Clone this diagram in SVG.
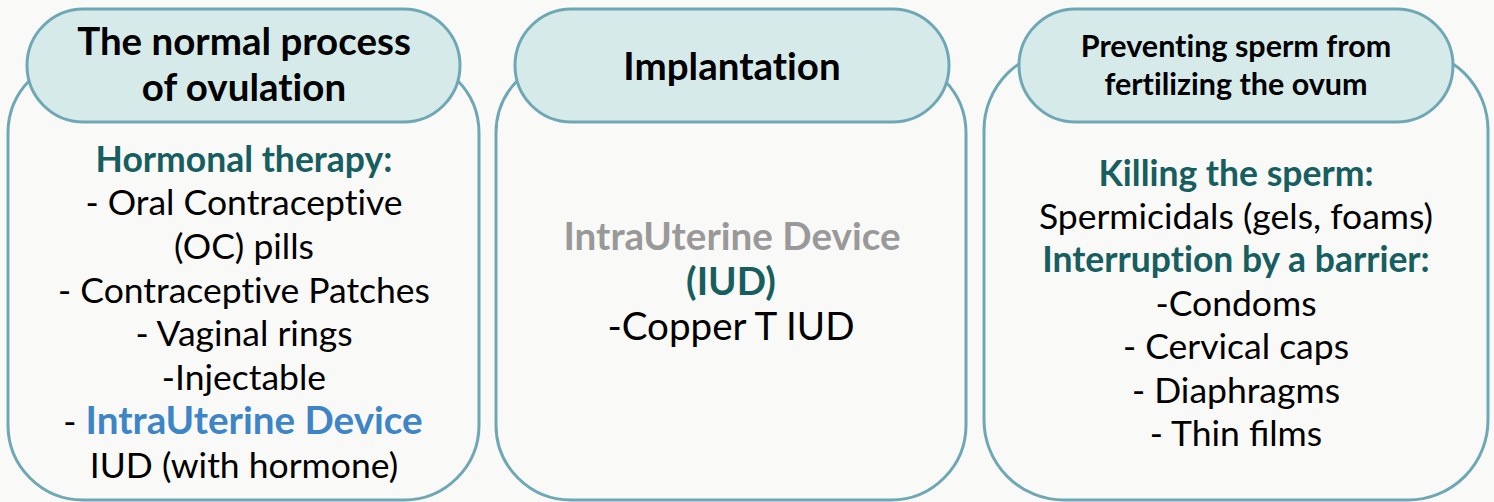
<svg xmlns="http://www.w3.org/2000/svg" width="1494" height="502" viewBox="0 0 1494 502">
  <style>
    .box { fill: #f9f9f7; stroke: #6fa8b5; stroke-width: 3; }
    .pill { fill: #d6eaea; stroke: #6fa8b5; stroke-width: 3; }
    text { font-family: Lato, "Open Sans", sans-serif; text-anchor: middle; fill: #000; font-variant-ligatures: none; }
    .lig { font-variant-ligatures: common-ligatures; }
    .title { font-weight: bold; font-size: 38.5px; }
    .title-sm { font-weight: bold; font-size: 30.5px; }
    .body { font-size: 35.5px; }
    .head { font-weight: bold; font-size: 35.5px; fill: #175e60; }
    .mid { font-size: 38.6px; }
    .blue { font-weight: bold; font-size: 38.6px; fill: #3d85c6; }
    .grey { font-weight: bold; fill: #999999; }
    .teal { font-weight: bold; fill: #175e60; }
  </style>
  <rect width="1494" height="502" fill="#f9f9f7"/>

  <g id="ovulation">
    <rect class="box" x="8" y="58" width="471" height="442" rx="75"/>
    <rect class="pill" x="27" y="9" width="433" height="113" rx="56.5"/>
    <text class="title" x="244" y="55">The normal process</text>
    <text class="title" x="244" y="101">of ovulation</text>
    <text class="head" x="244" y="172">Hormonal therapy:</text>
    <text class="body" x="244" y="215">- Oral Contraceptive</text>
    <text class="body" x="244" y="259">(OC) pills</text>
    <text class="body" x="244" y="303">- Contraceptive Patches</text>
    <text class="body" x="244" y="346">- Vaginal rings</text>
    <text class="body" x="244" y="390">-Injectable</text>
    <text class="body" x="243" y="434">- <tspan class="blue">IntraUterine Device</tspan></text>
    <text class="body" x="244" y="478">IUD (with hormone)</text>
  </g>

  <g id="implantation">
    <rect class="box" x="496" y="58" width="470" height="442" rx="75"/>
    <rect class="pill" x="515" y="9" width="434" height="113" rx="56.5"/>
    <text class="title" x="732" y="80">Implantation</text>
    <text class="mid grey" x="732" y="250">IntraUterine Device</text>
    <text class="mid teal" x="731" y="295">(IUD)</text>
    <text class="mid" x="731" y="340">-Copper T IUD</text>
  </g>

  <g id="fertilization">
    <rect class="box" x="984" y="50" width="504" height="450" rx="80"/>
    <rect class="pill" x="1019" y="9" width="434" height="113" rx="56.5"/>
    <text class="title-sm" x="1236" y="57">Preventing sperm from</text>
    <text class="title-sm" x="1236" y="95">fertilizing the ovum</text>
    <text class="head" x="1236" y="186">Killing the sperm:</text>
    <text class="body" x="1236" y="229">Spermicidals (gels, foams)</text>
    <text class="head" x="1236" y="272">Interruption by a barrier:</text>
    <text class="body" x="1236" y="316">-Condoms</text>
    <text class="body" x="1236" y="359">- Cervical caps</text>
    <text class="body" x="1236" y="403">- Diaphragms</text>
    <text class="body lig" x="1236" y="446">- Thin films</text>
  </g>

  <g id="connectors"/>
</svg>
